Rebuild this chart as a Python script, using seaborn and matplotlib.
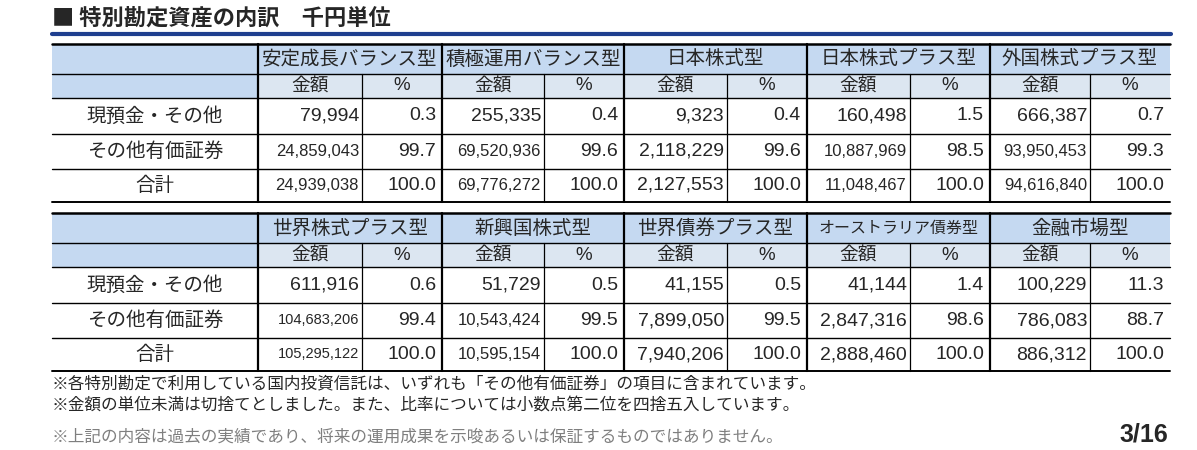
import matplotlib.pyplot as plt
import seaborn as sns

sns.set_theme(style="white")
plt.rcParams["font.family"] = ["Noto Sans CJK JP", "DejaVu Sans"]

TITLE = "■ 特別勘定資産の内訳　千円単位"
ROW_LABELS = ["現預金・その他", "その他有価証券", "合計"]

FUNDS_1 = ["安定成長バランス型", "積極運用バランス型", "日本株式型", "日本株式プラス型", "外国株式プラス型"]
AMOUNTS_1 = [
    ["79,994", "255,335", "9,323", "160,498", "666,387"],
    ["24,859,043", "69,520,936", "2,118,229", "10,887,969", "93,950,453"],
    ["24,939,038", "69,776,272", "2,127,553", "11,048,467", "94,616,840"],
]
PCTS_1 = [
    ["0.3", "0.4", "0.4", "1.5", "0.7"],
    ["99.7", "99.6", "99.6", "98.5", "99.3"],
    ["100.0", "100.0", "100.0", "100.0", "100.0"],
]

FUNDS_2 = ["世界株式プラス型", "新興国株式型", "世界債券プラス型", "オーストラリア債券型", "金融市場型"]
AMOUNTS_2 = [
    ["611,916", "51,729", "41,155", "41,144", "100,229"],
    ["104,683,206", "10,543,424", "7,899,050", "2,847,316", "786,083"],
    ["105,295,122", "10,595,154", "7,940,206", "2,888,460", "886,312"],
]
PCTS_2 = [
    ["0.6", "0.5", "0.5", "1.4", "11.3"],
    ["99.4", "99.5", "99.5", "98.6", "88.7"],
    ["100.0", "100.0", "100.0", "100.0", "100.0"],
]

NOTES = [
    "※各特別勘定で利用している国内投資信託は、いずれも「その他有価証券」の項目に含まれています。",
    "※金額の単位未満は切捨てとしました。また、比率については小数点第二位を四捨五入しています。",
]
DISCLAIMER = "※上記の内容は過去の実績であり、将来の運用成果を示唆あるいは保証するものではありません。"
PAGE = "3/16"

X0, X1 = 52, 1170
G_START = [258, 442, 624, 807, 990]
G_END = G_START[1:] + [X1]
PCT_W = 80
NUM_FONT = ["Liberation Sans", "DejaVu Sans"]
HEAD1 = "#c5d9f1"
HEAD2 = "#dce6f1"


def draw_table(ax, top, funds, amounts, pcts):
    ys = [top, top + 30, top + 54, top + 90, top + 125, top + 158]
    ax.fill_between([X0, X1], ys[0], ys[2], color=HEAD1, lw=0)
    for gs, ge in zip(G_START, G_END):
        ax.fill_between([gs, ge], ys[1], ys[2], color=HEAD2, lw=0)
    for i, y in enumerate(ys):
        lw = 1.8 if i == 0 else (1.4 if i == 5 else 1.0)
        ax.plot([X0, X1], [y, y], color="black", lw=lw)
    for gs in G_START:
        ax.plot([gs, gs], [ys[0], ys[5]], color="black", lw=1.6)
    for ge in G_END:
        sp = ge - PCT_W
        ax.plot([sp, sp], [ys[1], ys[5]], color="black", lw=0.9)
    for j, name in enumerate(funds):
        cx = (G_START[j] + G_END[j]) / 2
        fs = 11.5 if len(name) >= 10 else 14
        ax.text(cx, (ys[0] + ys[1]) / 2, name, ha="center", va="center", fontsize=fs)
        sp = G_END[j] - PCT_W
        ax.text((G_START[j] + sp) / 2, (ys[1] + ys[2]) / 2, "金額", ha="center", va="center", fontsize=13.5)
        ax.text((sp + G_END[j]) / 2, (ys[1] + ys[2]) / 2, "%", ha="center", va="center",
                fontsize=13.5, family=NUM_FONT)
    for i, label in enumerate(ROW_LABELS):
        cy = (ys[i + 2] + ys[i + 3]) / 2
        ax.text(155, cy, label, ha="center", va="center", fontsize=14)
        for j in range(5):
            sp = G_END[j] - PCT_W
            amt = amounts[i][j]
            fs = {10: 12, 11: 10.5}.get(len(amt), 14)
            ax.text(sp - 3, cy, amt, ha="right", va="center", fontsize=fs, family=NUM_FONT)
            ax.text(G_END[j] - 6, cy, pcts[i][j], ha="right", va="center", fontsize=14, family=NUM_FONT)


fig = plt.figure(figsize=(11.97, 4.5), dpi=100)
ax = fig.add_axes([0, 0, 1, 1])
ax.set_xlim(0, 1197)
ax.set_ylim(450, 0)
ax.axis("off")

ax.text(52, 18, TITLE, ha="left", va="center", fontsize=16, fontweight="bold")
ax.plot([52, 1171], [34, 34], color="#1f3f8f", lw=3)

draw_table(ax, 44, FUNDS_1, AMOUNTS_1, PCTS_1)
draw_table(ax, 213, FUNDS_2, AMOUNTS_2, PCTS_2)

ax.text(52, 384, NOTES[0], ha="left", va="center", fontsize=12)
ax.text(52, 406, NOTES[1], ha="left", va="center", fontsize=12)
ax.text(52, 437, DISCLAIMER, ha="left", va="center", fontsize=12, color="#7f7f7f")
ax.text(1168, 434, PAGE, ha="right", va="center", fontsize=18, fontweight="bold", family=NUM_FONT)

fig.savefig("out.png", dpi=100)
